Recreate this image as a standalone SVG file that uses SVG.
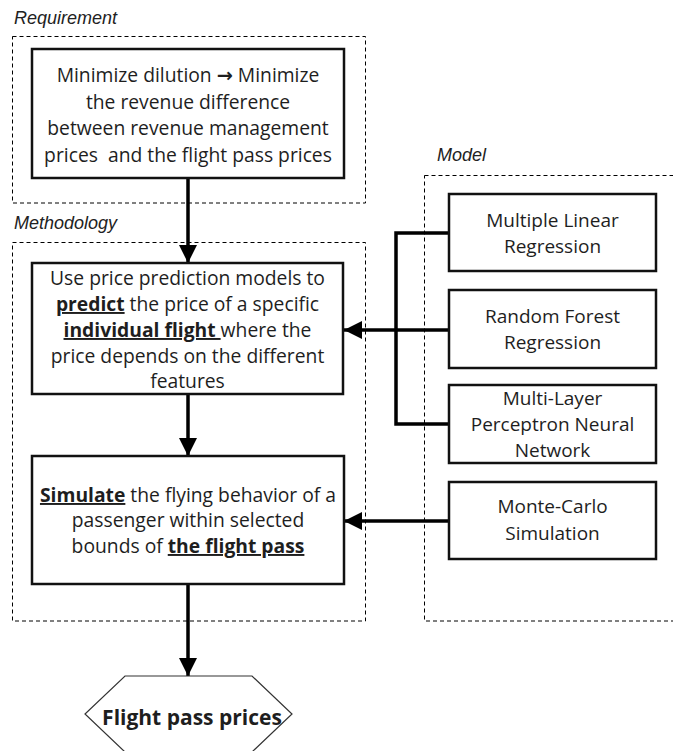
<svg xmlns="http://www.w3.org/2000/svg" width="673" height="751" viewBox="0 0 673 751">
  <style>
    .group { fill: none; stroke: #000; stroke-width: 1; stroke-dasharray: 4 3; }
    .label { font-family: "Liberation Sans", Arial, sans-serif; font-style: italic; font-size: 18px; fill: #222; }
    .box { fill: #fff; stroke: #111; stroke-width: 2.5; }
    .txt { font-family: "Open Sans", "Noto Sans", sans-serif; font-size: 19.3px; fill: #1e1e1e; text-anchor: middle; white-space: pre; }
    .small { font-size: 19px; }
    .em { font-weight: bold; text-decoration: underline; }
    .arr { font-family: "DejaVu Sans", sans-serif; font-weight: bold; }
    .wire { fill: none; stroke: #000; stroke-width: 3.5; }
    .hex { fill: #fff; stroke: #333; stroke-width: 1.2; }
  </style>
  <defs>
    <marker id="head" markerUnits="userSpaceOnUse" markerWidth="20" markerHeight="20" refX="18" refY="9" orient="auto">
      <path d="M0,0 L18,9 L0,18 Z" fill="#000"/>
    </marker>
  </defs>

  <rect width="673" height="751" fill="#fff"/>

  <!-- grouping frames -->
  <g id="frames">
    <rect class="group" x="12.5" y="36.5" width="353" height="166.5"/>
    <rect class="group" x="12.5" y="242.5" width="353" height="378.5"/>
    <rect class="group" x="424.5" y="175.5" width="270" height="445.5"/>
    <text class="label" x="14" y="24">Requirement</text>
    <text class="label" x="14" y="229">Methodology</text>
    <text class="label" x="437" y="161">Model</text>
  </g>

  <!-- connectors -->
  <g id="connectors">
    <line class="wire" x1="188" y1="178" x2="188" y2="263" marker-end="url(#head)"/>
    <line class="wire" x1="188" y1="394" x2="188" y2="456" marker-end="url(#head)"/>
    <line class="wire" x1="188" y1="584" x2="188" y2="676" marker-end="url(#head)"/>
    <path class="wire" d="M449,233 H396 V424 H449"/>
    <line class="wire" x1="449" y1="330" x2="344" y2="330" marker-end="url(#head)"/>
    <line class="wire" x1="449" y1="521" x2="344" y2="521" marker-end="url(#head)"/>
  </g>

  <g id="requirement">
    <rect class="box" x="32" y="49" width="312" height="129"/>
    <text class="txt" x="188" y="82">Minimize dilution <tspan class="arr">→</tspan> Minimize</text>
    <text class="txt" x="188" y="109">the revenue difference</text>
    <text class="txt" x="188" y="135">between revenue management</text>
    <text class="txt" x="188" y="162">prices  and the flight pass prices</text>
  </g>

  <g id="predict">
    <rect class="box" x="32" y="263" width="311" height="131"/>
    <text class="txt" x="187.5" y="285">Use price prediction models to</text>
    <text class="txt" x="187.5" y="311"><tspan class="em">predict</tspan> the price of a specific</text>
    <text class="txt" x="187.5" y="337"><tspan class="em">individual flight </tspan>where the</text>
    <text class="txt" x="187.5" y="363">price depends on the different</text>
    <text class="txt" x="187.5" y="388">features</text>
  </g>

  <g id="simulate">
    <rect class="box" x="32" y="456" width="312" height="128"/>
    <text class="txt" x="188" y="502"><tspan class="em">Simulate</tspan> the flying behavior of a</text>
    <text class="txt" x="188" y="527">passenger within selected</text>
    <text class="txt" x="188" y="553">bounds of <tspan class="em">the flight pass</tspan></text>
  </g>

  <g id="output">
    <polygon class="hex" points="125,676 252,676 292,714 252,752 125,752 85,714"/>
    <text class="txt" x="192" y="725" style="font-weight:bold;font-size:21px">Flight pass prices</text>
  </g>

  <g id="mlr">
    <rect class="box" x="449" y="194" width="207" height="77"/>
    <text class="txt small" x="552.5" y="227">Multiple Linear</text>
    <text class="txt small" x="552.5" y="253">Regression</text>
  </g>

  <g id="rf">
    <rect class="box" x="449" y="290" width="207" height="78"/>
    <text class="txt small" x="552.5" y="322.5">Random Forest</text>
    <text class="txt small" x="552.5" y="348.5">Regression</text>
  </g>

  <g id="mlp">
    <rect class="box" x="449" y="385" width="207" height="78"/>
    <text class="txt small" x="552.5" y="404.5">Multi-Layer</text>
    <text class="txt small" x="552.5" y="430.5">Perceptron Neural</text>
    <text class="txt small" x="552.5" y="456.5">Network</text>
  </g>

  <g id="mc">
    <rect class="box" x="449" y="482" width="207" height="77"/>
    <text class="txt small" x="552.5" y="513">Monte-Carlo</text>
    <text class="txt small" x="552.5" y="540">Simulation</text>
  </g>
</svg>
